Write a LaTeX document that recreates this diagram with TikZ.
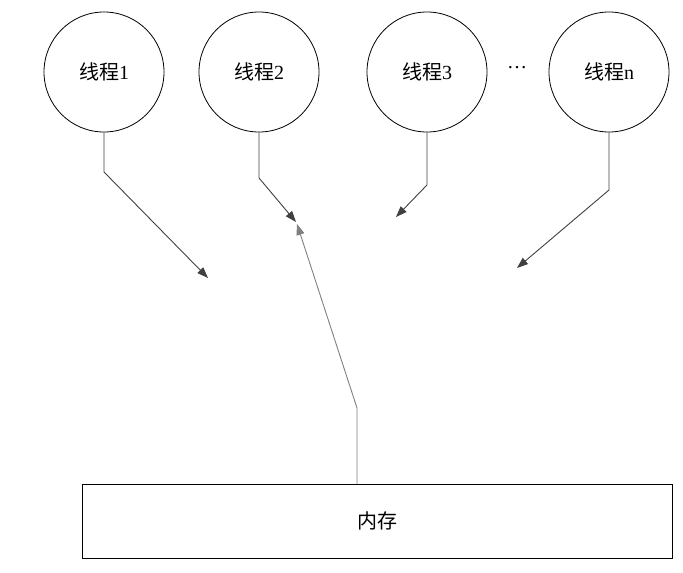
\documentclass[tikz,border=0pt]{standalone}
\usepackage{fontspec}
\setmainfont{Liberation Serif}
\newfontfamily\cjk{Noto Sans CJK SC}
\usetikzlibrary{arrows.meta}
\tikzset{
  thr/.style={circle,draw,line width=0.8pt,minimum size=120pt,inner sep=0pt,font=\fontsize{20}{22}\selectfont},
  conn/.style={draw=black!75,line width=0.9pt,-{Triangle[length=11pt,width=8pt]}},
  memconn/.style={draw=black!50,line width=0.9pt,-{Triangle[length=11pt,width=8pt,fill=black!50]}}
}
\begin{document}
\begin{tikzpicture}[x=1pt,y=-1pt]
\useasboundingbox (0,0) rectangle (683,573);
\node[thr] (t1) at (104,72) {{\cjk 线程}1};
\node[thr] (t2) at (259,72) {{\cjk 线程}2};
\node[thr] (t3) at (427,72) {{\cjk 线程}3};
\node[thr] (tn) at (609,72) {{\cjk 线程}n};
\node[font=\fontsize{20}{22}\selectfont] (dots) at (517,68) {\ldots};
\node[draw,line width=0.8pt,minimum width=590pt,minimum height=74pt,font=\fontsize{20}{22}\selectfont] (mem) at (377,521) {\cjk 内存};
\coordinate (e1) at (208,278);
\coordinate (e2) at (296,222);
\coordinate (e3) at (396,217);
\coordinate (en) at (517,268);
\coordinate (em) at (297,224);
\draw[conn] (t1.south) -- (104,172) -- (e1);
\draw[conn] (t2.south) -- (259,178) -- (e2);
\draw[conn] (t3.south) -- (427,185) -- (e3);
\draw[conn] (tn.south) -- (609,190) -- (en);
\draw[memconn] (357,484) -- (357,408) -- (em);
\end{tikzpicture}
\end{document}
